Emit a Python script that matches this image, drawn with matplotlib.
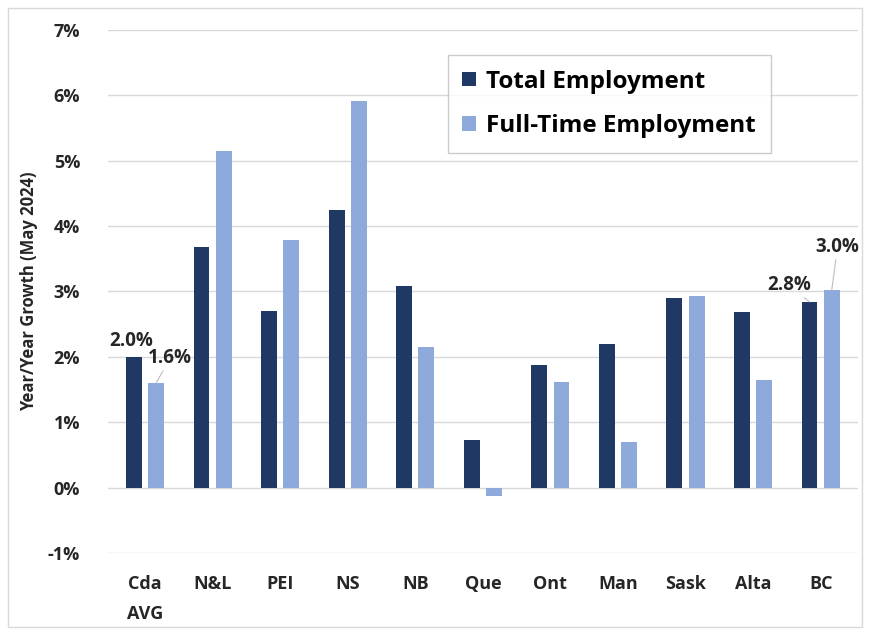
import matplotlib.pyplot as plt
from matplotlib.patches import Rectangle
from matplotlib.ticker import FuncFormatter

plt.rcParams['font.family'] = ['Open Sans', 'DejaVu Sans']

# Data
regions = ['Cda\nAVG', 'N&L', 'PEI', 'NS', 'NB', 'Que', 'Ont', 'Man', 'Sask', 'Alta', 'BC']
total_emp = [2.0, 3.68, 2.70, 4.24, 3.08, 0.73, 1.88, 2.20, 2.90, 2.69, 2.84]
fulltime_emp = [1.6, 5.14, 3.79, 5.91, 2.15, -0.13, 1.62, 0.70, 2.93, 1.65, 3.03]

dark = '#1f3864'
light = '#8eaadb'
txt = '#262626'

fig = plt.figure(figsize=(8.7, 6.35), dpi=100)
ax = fig.add_axes([0.124, 0.129, 0.862, 0.824])

# Thin frame round the whole chart
fig.patches.append(Rectangle((0.009, 0.012), 0.982, 0.976, transform=fig.transFigure,
                             fill=False, edgecolor='#d9d9d9', linewidth=1))

x = range(len(regions))
w = 0.235
off = 0.165
ax.bar([i - off for i in x], total_emp, w, color=dark, label='Total Employment', zorder=3)
ax.bar([i + off for i in x], fulltime_emp, w, color=light, label='Full-Time Employment', zorder=3)

ax.set_ylim(-1, 7)
ax.set_xlim(-0.55, len(regions) - 0.45)
ax.set_yticks(range(-1, 8))
ax.yaxis.set_major_formatter(FuncFormatter(lambda v, p: f'{v:.0f}%'))
ax.grid(axis='y', color='#d9d9d9', linewidth=1, zorder=0)
for s in ax.spines.values():
    s.set_visible(False)
ax.tick_params(length=0)
ax.tick_params(axis='y', pad=20)
ax.tick_params(axis='x', pad=16)
ax.set_xticks(list(x))
ax.set_xticklabels(regions, fontsize=13, fontweight='bold', color=txt, linespacing=1.8)
for lab in ax.get_yticklabels():
    lab.set_fontsize(13)
    lab.set_fontweight('bold')
    lab.set_color(txt)
ax.set_ylabel('Year/Year Growth (May 2024)', fontsize=12, fontweight='bold', color=txt)
ax.yaxis.set_label_coords(-0.093, 0.5)

# Data labels with leader lines
lab_kw = dict(fontsize=13.5, fontweight='bold', color=txt, ha='center', va='center')
line_kw = dict(arrowstyle='-', color='#bfbfbf', lw=0.8, shrinkA=0, shrinkB=0)
ax.annotate(f'{total_emp[0]:.1f}%', xy=(0 - off, total_emp[0]), xytext=(-0.21, 2.24), **lab_kw)
ax.annotate(f'{fulltime_emp[0]:.1f}%', xy=(0 + off, fulltime_emp[0]), xytext=(0.37, 1.98),
            arrowprops=line_kw, **lab_kw)
ax.annotate(f'{total_emp[10]:.1f}%', xy=(10 - off, total_emp[10]), xytext=(9.53, 3.1),
            arrowprops=line_kw, **lab_kw)
ax.annotate(f'{fulltime_emp[10]:.1f}%', xy=(10 + off, fulltime_emp[10]), xytext=(10.25, 3.68),
            arrowprops=line_kw, **lab_kw)

leg = ax.legend(loc='upper left', bbox_to_anchor=(0.453, 0.952),
                prop={'weight': 'bold', 'size': 17.5}, frameon=True, fancybox=False,
                edgecolor='#bfbfbf', handlelength=0.55, handleheight=0.55, handletextpad=0.45,
                borderpad=0.6, labelspacing=0.85, borderaxespad=0)
leg.get_frame().set_linewidth(1)

fig.savefig('out.png', dpi=100)
